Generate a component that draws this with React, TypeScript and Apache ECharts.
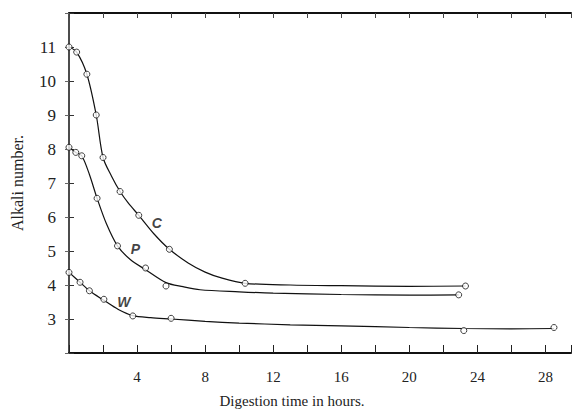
import React, { useEffect, useRef } from "react";
import * as echarts from "echarts";

// Readings of the plotted observations (hours, alkali number)
const cPoints: number[][] = [[0, 11.0], [0.45, 10.85], [1.05, 10.2], [1.6, 9.0], [2.0, 7.75], [3.0, 6.75], [4.1, 6.05], [5.9, 5.05], [10.35, 4.05], [23.3, 3.97]];
const pPoints: number[][] = [[0, 8.05], [0.4, 7.9], [0.75, 7.8], [1.65, 6.55], [2.85, 5.15], [4.5, 4.5], [5.7, 3.97], [22.9, 3.71]];
const wPoints: number[][] = [[0, 4.37], [0.65, 4.08], [1.2, 3.83], [2.05, 3.58], [3.75, 3.09], [6.0, 3.02], [23.2, 2.66], [28.5, 2.75]];

// Readings of the hand-drawn curves
const cCurve: number[][] = [[0, 11.0], [0.45, 10.85], [1.05, 10.2], [1.6, 9.0], [2.0, 7.75], [2.5, 7.2], [3.0, 6.75], [3.5, 6.4], [4.1, 6.05], [5.0, 5.5], [5.9, 5.05], [7, 4.65], [8, 4.38], [9, 4.2], [10.35, 4.05], [13, 4.0], [16, 3.98], [20, 3.96], [23.3, 3.97]];
const pCurve: number[][] = [[0, 8.05], [0.4, 7.9], [0.75, 7.8], [1.2, 7.25], [1.65, 6.55], [2.2, 5.8], [2.85, 5.15], [3.6, 4.75], [4.5, 4.45], [5.7, 4.07], [6.7, 3.95], [7.7, 3.86], [10, 3.8], [12, 3.76], [16, 3.72], [20, 3.7], [22.9, 3.71]];
const wCurve: number[][] = [[0, 4.37], [0.65, 4.08], [1.2, 3.83], [2.05, 3.55], [2.9, 3.28], [3.75, 3.1], [4.8, 3.04], [6.0, 3.0], [8, 2.93], [10, 2.88], [13, 2.83], [16, 2.8], [20, 2.75], [23.2, 2.72], [26, 2.71], [28.5, 2.72]];

const curveLabels: (number | string)[][] = [[5.16, 5.82, "C"], [3.9, 5.05, "P"], [3.22, 3.51, "W"]];

const xLabelValues = [4, 8, 12, 16, 20, 24, 28];
const yLabelValues = [3, 4, 5, 6, 7, 8, 9, 10, 11];

const SERIF = "Liberation Serif";

export default function App() {
  const ref = useRef<HTMLDivElement>(null);
  useEffect(() => {
    document.body.style.margin = "0";
    if (!ref.current) return;
    const chart = echarts.init(ref.current, undefined, { renderer: "svg" });
    const lineSeries = (data: number[][]) => ({
      type: "line",
      data,
      smooth: 0.3,
      showSymbol: false,
      symbol: "none",
      lineStyle: { color: "#111", width: 1.2 },
      z: 2,
    });
    const pointSeries = (data: number[][]) => ({
      type: "scatter",
      data,
      symbol: "circle",
      symbolSize: 6,
      itemStyle: { color: "#fff", borderColor: "#111", borderWidth: 1 },
      z: 3,
    });
    chart.setOption({
      animation: false,
      backgroundColor: "#fff",
      textStyle: { fontFamily: SERIF },
      grid: { left: 69, right: 1, top: 13, bottom: 60 },
      xAxis: [
        {
          type: "value",
          position: "bottom",
          min: 0,
          max: 29.5,
          interval: 2,
          axisLine: { show: true, lineStyle: { color: "#111", width: 2 } },
          axisTick: { show: true, inside: true, length: 8, lineStyle: { color: "#222", width: 1 } },
          splitLine: { show: false },
          axisLabel: {
            margin: 16,
            fontFamily: SERIF,
            fontSize: 15,
            color: "#222",
            formatter: (v: number) => (xLabelValues.includes(v) ? String(v) : ""),
          },
          name: "Digestion time in hours.",
          nameLocation: "middle",
          nameGap: 40,
          nameTextStyle: { fontFamily: SERIF, fontSize: 15, color: "#222", padding: [0, 56, 0, 0] },
        },
        {
          type: "value",
          position: "top",
          min: 0,
          max: 29.5,
          interval: 2,
          axisLine: { show: true, lineStyle: { color: "#111", width: 2 } },
          axisTick: { show: true, inside: true, length: 5, lineStyle: { color: "#444", width: 1 } },
          axisLabel: { show: false },
          splitLine: { show: false },
        },
      ],
      yAxis: [
        {
          type: "value",
          position: "left",
          min: 2,
          max: 12,
          interval: 1,
          axisLine: { show: true, lineStyle: { color: "#111", width: 1.5 } },
          axisTick: { show: true, inside: true, length: 5, lineStyle: { color: "#333", width: 1 } },
          splitLine: { show: false },
          axisLabel: {
            margin: 13,
            fontFamily: SERIF,
            fontSize: 17,
            color: "#222",
            formatter: (v: number) => (yLabelValues.includes(v) ? String(v) : ""),
          },
          name: "Alkali number.",
          nameLocation: "middle",
          nameGap: 44,
          nameTextStyle: { fontFamily: SERIF, fontSize: 16, color: "#222" },
        },
        {
          type: "value",
          position: "right",
          min: 2,
          max: 12,
          interval: 1,
          axisLine: { show: false },
          axisTick: { show: true, inside: true, length: 4, lineStyle: { color: "#666", width: 1 } },
          axisLabel: { show: false },
          splitLine: { show: false },
        },
      ],
      series: [
        lineSeries(cCurve),
        lineSeries(pCurve),
        lineSeries(wCurve),
        pointSeries(cPoints),
        pointSeries(pPoints),
        pointSeries(wPoints),
        {
          type: "scatter",
          data: curveLabels,
          symbolSize: 0,
          itemStyle: { color: "transparent" },
          label: {
            show: true,
            position: "inside",
            formatter: (p: any) => p.data[2],
            fontFamily: "Liberation Sans",
            fontStyle: "italic",
            fontWeight: "bold",
            fontSize: 14,
            color: "#111",
          },
          z: 4,
        },
      ],
    });
    return () => chart.dispose();
  }, []);
  return <div ref={ref} style={{ width: 574, height: 413, position: "fixed", left: 0, top: 0 }} />;
}
